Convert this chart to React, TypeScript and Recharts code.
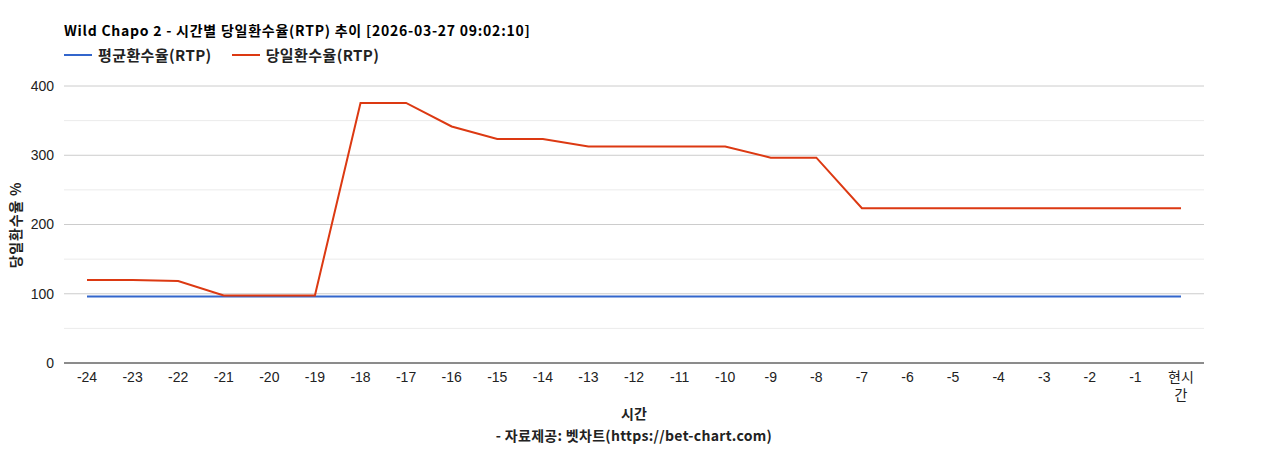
import React from "react";
import {
  LineChart,
  Line,
  XAxis,
  YAxis,
  CartesianGrid,
  ReferenceLine,
} from "recharts";

if (typeof document !== "undefined") document.body.style.margin = "0";

const hours = [
  "-24", "-23", "-22", "-21", "-20", "-19", "-18", "-17", "-16", "-15",
  "-14", "-13", "-12", "-11", "-10", "-9", "-8", "-7", "-6", "-5",
  "-4", "-3", "-2", "-1", "현시간",
];
const avgRtp = [
  96, 96, 96, 96, 96, 96, 96, 96, 96, 96, 96, 96, 96, 96, 96, 96, 96, 96, 96,
  96, 96, 96, 96, 96, 96,
];
const dailyRtp = [
  120, 120, 118.5, 97.5, 97.5, 97.5, 375.5, 375.5, 341.5, 323.5, 323.5, 312.5,
  312.5, 312.5, 312.5, 296.5, 296.5, 223.5, 223.5, 223.5, 223.5, 223.5, 223.5,
  223.5, 223.5,
];
const yTicks = [0, 100, 200, 300, 400];
const minorTicks = [50, 150, 250, 350];

const series = [
  { key: "avg", name: "평균환수율(RTP)", color: "#3366cc" },
  { key: "daily", name: "당일환수율(RTP)", color: "#dc3912" },
];

const data = hours.map((h, i) => ({ hour: h, avg: avgRtp[i], daily: dailyRtp[i] }));

const FONT = "'Noto Sans CJK KR', 'Noto Sans', sans-serif";
const TICK_FONT = "'Liberation Sans', Arial, 'Noto Sans CJK KR', sans-serif";

// 한글 라벨(현시간)은 두 줄로 나눠 그림
function HourTick({ x, y, payload }: any) {
  const v: string = payload.value;
  const lines = /[^\d-]/.test(v) ? [v.slice(0, 2), v.slice(2)] : [v];
  return (
    <text x={x} y={y} textAnchor="middle" fill="#222" fontSize={14} fontFamily={TICK_FONT}>
      {lines.map((l, i) => (
        <tspan key={i} x={x} dy={i === 0 ? 11 : 18}>
          {l}
        </tspan>
      ))}
    </text>
  );
}

export default function App() {
  return (
    <div style={{ position: "relative", width: 1268, height: 450, background: "#fff", fontFamily: FONT }}>
      <div style={{ position: "absolute", left: 64, top: 20, fontSize: 14, letterSpacing: 0.75, fontWeight: 700, color: "#000", whiteSpace: "nowrap" }}>
        Wild Chapo 2 - 시간별 당일환수율(RTP) 추이 [2026-03-27 09:02:10]
      </div>
      <div style={{ position: "absolute", left: 64, top: 44, display: "flex", fontSize: 15, letterSpacing: 0.4, fontWeight: 700, color: "#222" }}>
        {series.map((s) => (
          <div key={s.key} style={{ display: "flex", alignItems: "center", marginRight: 20 }}>
            <span style={{ display: "inline-block", width: 28, height: 2, background: s.color, marginRight: 6 }} />
            <span>{s.name}</span>
          </div>
        ))}
      </div>
      <div
        style={{
          position: "absolute",
          left: 15,
          top: 225,
          transform: "translate(-50%, -50%) rotate(-90deg)",
          fontSize: 14,
          letterSpacing: 0.8,
          fontWeight: 700,
          color: "#222",
          whiteSpace: "nowrap",
        }}
      >
        당일환수율 %
      </div>
      <div style={{ position: "absolute", left: 0, width: 1268, top: 403, textAlign: "center", fontSize: 14, fontWeight: 700, color: "#222" }}>
        시간
      </div>
      <div style={{ position: "absolute", left: 0, width: 1268, top: 425, textAlign: "center", fontSize: 14, letterSpacing: 0.3, fontWeight: 700, color: "#222" }}>
        - 자료제공: 벳차트(https://bet-chart.com)
      </div>
      <LineChart
        width={1268}
        height={450}
        data={data}
        margin={{ top: 86, right: 64, bottom: 57, left: 0 }}
        style={{ position: "absolute", left: 0, top: 0 }}
      >
        <CartesianGrid vertical={false} stroke="#cccccc" />
        {minorTicks.map((t) => (
          <ReferenceLine key={t} y={t} stroke="#ebebeb" />
        ))}
        <XAxis
          dataKey="hour"
          interval={0}
          tickLine={false}
          axisLine={{ stroke: "#333" }}
          padding={{ left: 23, right: 23 }}
          tick={<HourTick />}
          height={30}
        />
        <YAxis
          domain={[0, 400]}
          ticks={yTicks}
          width={64}
          tickLine={false}
          axisLine={false}
          tickMargin={4}
          tick={{ fill: "#222", fontSize: 14, fontFamily: TICK_FONT }}
        />
        {series.map((s) => (
          <Line
            key={s.key}
            type="linear"
            dataKey={s.key}
            name={s.name}
            stroke={s.color}
            strokeWidth={2}
            dot={false}
            isAnimationActive={false}
          />
        ))}
      </LineChart>
    </div>
  );
}
